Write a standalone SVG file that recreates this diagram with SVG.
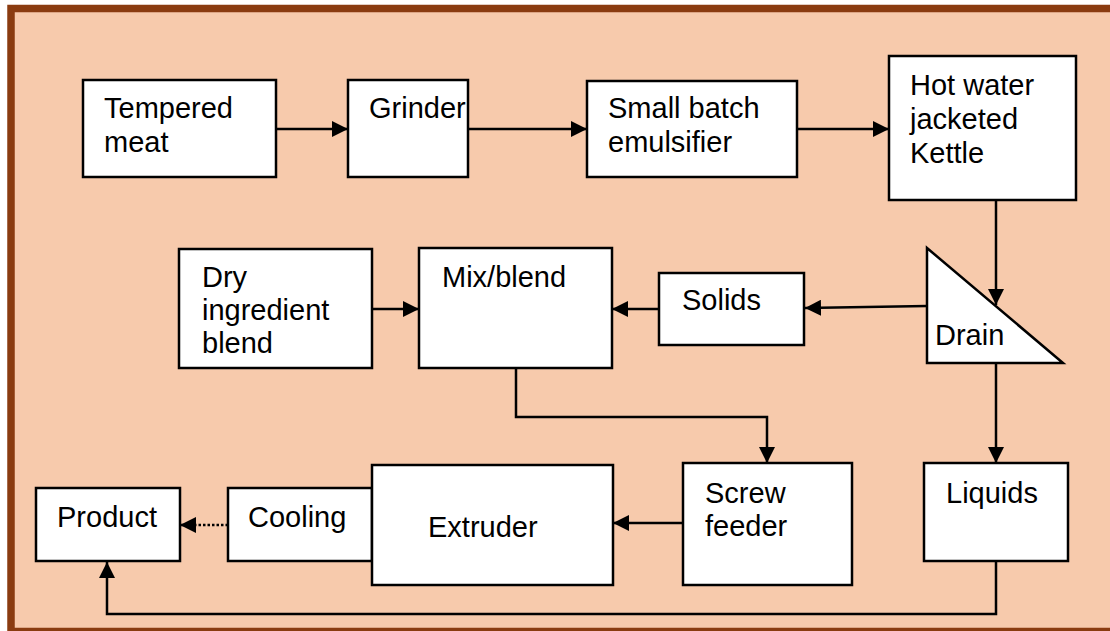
<svg xmlns="http://www.w3.org/2000/svg" width="1110" height="631" viewBox="0 0 1110 631">
<defs>
<style>
.box{fill:#fff;stroke:#000;stroke-width:2.5}
.lbl{font-family:"Liberation Sans",Arial,sans-serif;font-size:29px;fill:#000}
.ln{fill:none;stroke:#000;stroke-width:2.5}
.dot{fill:none;stroke:#000;stroke-width:2.5;stroke-dasharray:2.5 2}
</style>
<marker id="ah" viewBox="0 0 16 16" refX="16" refY="8" markerWidth="16" markerHeight="16" markerUnits="userSpaceOnUse" orient="auto">
<path d="M0,0 L16,8 L0,16 Z" fill="#000"/>
</marker>
</defs>
<rect x="0" y="0" width="1110" height="631" fill="#fff"/>
<rect x="11" y="8.5" width="1110" height="623" fill="#F7CAAC" stroke="#8A3B10" stroke-width="7.5"/>
<g id="connectors">
<line class="ln" x1="276" y1="129" x2="348" y2="129" marker-end="url(#ah)"/>
<line class="ln" x1="468" y1="129" x2="587" y2="129" marker-end="url(#ah)"/>
<line class="ln" x1="797" y1="129" x2="889" y2="129" marker-end="url(#ah)"/>
<line class="ln" x1="996" y1="200" x2="996" y2="305" marker-end="url(#ah)"/>
<line class="ln" x1="927" y1="306" x2="805" y2="308" marker-end="url(#ah)"/>
<line class="ln" x1="659" y1="309" x2="612" y2="309" marker-end="url(#ah)"/>
<line class="ln" x1="372" y1="309" x2="419" y2="309" marker-end="url(#ah)"/>
<polyline class="ln" points="516,368 516,417 767,417 767,463" marker-end="url(#ah)"/>
<line class="ln" x1="996" y1="363" x2="996" y2="463" marker-end="url(#ah)"/>
<line class="ln" x1="683" y1="523" x2="613" y2="523" marker-end="url(#ah)"/>
<line class="dot" x1="228" y1="525" x2="194" y2="525"/>
<line class="ln" x1="196" y1="525" x2="180" y2="525" marker-end="url(#ah)"/>
<polyline class="ln" points="996,561 996,614 107,614 107,562" marker-end="url(#ah)"/>
</g>
<g id="tempered-meat">
<rect class="box" x="83" y="80" width="193" height="97"/>
<text class="lbl" x="104" y="118">Tempered</text>
<text class="lbl" x="104" y="152">meat</text>
</g>
<g id="grinder">
<rect class="box" x="348" y="80" width="120" height="97"/>
<text class="lbl" x="369" y="118">Grinder</text>
</g>
<g id="emulsifier">
<rect class="box" x="587" y="81" width="210" height="96"/>
<text class="lbl" x="608" y="118">Small batch</text>
<text class="lbl" x="608" y="152">emulsifier</text>
</g>
<g id="kettle">
<rect class="box" x="889" y="56" width="187" height="144"/>
<text class="lbl" x="910" y="95">Hot water</text>
<text class="lbl" x="910" y="129">jacketed</text>
<text class="lbl" x="910" y="163">Kettle</text>
</g>
<g id="drain">
<polygon class="box" points="927,248 927,363 1063,363"/>
<text class="lbl" x="935" y="345">Drain</text>
</g>
<g id="solids">
<rect class="box" x="659" y="273" width="145" height="72"/>
<text class="lbl" x="682" y="310">Solids</text>
</g>
<g id="mix-blend">
<rect class="box" x="419" y="248" width="193" height="120"/>
<text class="lbl" x="442" y="287">Mix/blend</text>
</g>
<g id="dry-ingredient">
<rect class="box" x="179" y="249" width="193" height="119"/>
<text class="lbl" x="202" y="287">Dry</text>
<text class="lbl" x="202" y="320">ingredient</text>
<text class="lbl" x="202" y="353">blend</text>
</g>
<g id="screw-feeder">
<rect class="box" x="683" y="463" width="169" height="122"/>
<text class="lbl" x="705" y="503">Screw</text>
<text class="lbl" x="705" y="536">feeder</text>
</g>
<g id="liquids">
<rect class="box" x="924" y="463" width="144" height="98"/>
<text class="lbl" x="946" y="503">Liquids</text>
</g>
<g id="cooling">
<rect class="box" x="228" y="488" width="144" height="73"/>
<text class="lbl" x="248" y="527">Cooling</text>
</g>
<g id="extruder">
<rect class="box" x="372" y="465" width="241" height="120"/>
<text class="lbl" x="428" y="537">Extruder</text>
</g>
<g id="product">
<rect class="box" x="36" y="488" width="144" height="73"/>
<text class="lbl" x="57" y="527">Product</text>
</g>
</svg>
